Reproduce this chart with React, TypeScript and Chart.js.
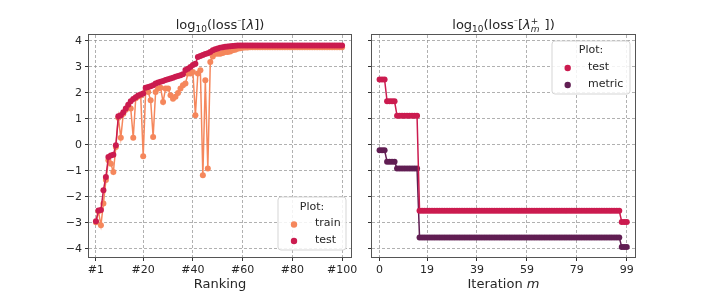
import React, { useEffect, useRef } from "react";
import { Chart, registerables } from "chart.js";
Chart.register(...registerables);

// ---------- data ----------
const rankTicks = [0, 19, 39, 59, 79, 99];
const rankTickLabels = ["#1", "#20", "#40", "#60", "#80", "#100"];
const iterTicks = [0, 19, 39, 59, 79, 99];
const iterTickLabels = ["0", "19", "39", "59", "79", "99"];
const yTicks = [-4, -3, -2, -1, 0, 1, 2, 3, 4];

const rankTrain = [
  -2.97, -2.55, -3.09, -2.25, -1.35, -0.59, -0.72, -1.04, -0.08, 1.05,
  0.28, 1.2, 1.35, 1.5, 1.4, 0.28, 1.8, 1.86, 1.9, -0.43,
  2.1, 2.04, 1.72, 0.31, 2.04, 2.17, 2.2, 1.65, 2.17, 2.17,
  1.91, 1.78, 1.85, 2.0, 2.17, 2.3, 2.36, 2.75, 2.75, 2.81,
  1.14, 2.75, 2.87, -1.17, 2.49, -0.91, 3.19, 3.4, 3.51, 3.51,
  3.51, 3.54, 3.58, 3.58, 3.6, 3.64, 3.66, 3.7, 3.72, 3.74,
  3.75, 3.75, 3.76, 3.76, 3.76, 3.76, 3.76, 3.76, 3.76, 3.76,
  3.76, 3.76, 3.76, 3.76, 3.76, 3.76, 3.76, 3.76, 3.76, 3.76,
  3.76, 3.76, 3.76, 3.76, 3.76, 3.76, 3.76, 3.76, 3.76, 3.76,
  3.76, 3.76, 3.76, 3.76, 3.76, 3.76, 3.76, 3.76, 3.76, 3.76,
];
const rankTest = [
  -2.93, -2.52, -2.5, -1.74, -1.23, -0.46, -0.41, -0.38, -0.01, 1.1,
  1.14, 1.26, 1.4, 1.55, 1.68, 1.77, 1.84, 1.9, 1.94, 1.98,
  2.2, 2.23, 2.26, 2.3, 2.36, 2.4, 2.43, 2.46, 2.5, 2.53,
  2.56, 2.59, 2.62, 2.65, 2.68, 2.72, 2.88, 2.93, 3.0, 3.08,
  3.12, 3.38, 3.42, 3.46, 3.5, 3.53, 3.58, 3.64, 3.68, 3.71,
  3.74, 3.76, 3.78, 3.79, 3.8, 3.81, 3.82, 3.83, 3.83, 3.83,
  3.83, 3.83, 3.83, 3.83, 3.83, 3.83, 3.83, 3.83, 3.83, 3.83,
  3.83, 3.83, 3.83, 3.83, 3.83, 3.83, 3.83, 3.83, 3.83, 3.83,
  3.83, 3.83, 3.83, 3.83, 3.83, 3.83, 3.83, 3.83, 3.83, 3.83,
  3.83, 3.83, 3.83, 3.83, 3.83, 3.83, 3.83, 3.83, 3.83, 3.83,
];
const iterTest = [
  2.52, 2.52, 2.52, 1.68, 1.68, 1.68, 1.68, 1.12, 1.12, 1.12,
  1.12, 1.12, 1.12, 1.12, 1.12, 1.12, -2.53, -2.53, -2.53, -2.53,
  -2.53, -2.53, -2.53, -2.53, -2.53, -2.53, -2.53, -2.53, -2.53, -2.53,
  -2.53, -2.53, -2.53, -2.53, -2.53, -2.53, -2.53, -2.53, -2.53, -2.53,
  -2.53, -2.53, -2.53, -2.53, -2.53, -2.53, -2.53, -2.53, -2.53, -2.53,
  -2.53, -2.53, -2.53, -2.53, -2.53, -2.53, -2.53, -2.53, -2.53, -2.53,
  -2.53, -2.53, -2.53, -2.53, -2.53, -2.53, -2.53, -2.53, -2.53, -2.53,
  -2.53, -2.53, -2.53, -2.53, -2.53, -2.53, -2.53, -2.53, -2.53, -2.53,
  -2.53, -2.53, -2.53, -2.53, -2.53, -2.53, -2.53, -2.53, -2.53, -2.53,
  -2.53, -2.53, -2.53, -2.53, -2.53, -2.53, -2.53, -2.96, -2.96, -2.96,
];
const iterMetric = [
  -0.2, -0.2, -0.2, -0.65, -0.65, -0.65, -0.65, -0.91, -0.91, -0.91,
  -0.91, -0.91, -0.91, -0.91, -0.91, -0.91, -3.56, -3.56, -3.56, -3.56,
  -3.56, -3.56, -3.56, -3.56, -3.56, -3.56, -3.56, -3.56, -3.56, -3.56,
  -3.56, -3.56, -3.56, -3.56, -3.56, -3.56, -3.56, -3.56, -3.56, -3.56,
  -3.56, -3.56, -3.56, -3.56, -3.56, -3.56, -3.56, -3.56, -3.56, -3.56,
  -3.56, -3.56, -3.56, -3.56, -3.56, -3.56, -3.56, -3.56, -3.56, -3.56,
  -3.56, -3.56, -3.56, -3.56, -3.56, -3.56, -3.56, -3.56, -3.56, -3.56,
  -3.56, -3.56, -3.56, -3.56, -3.56, -3.56, -3.56, -3.56, -3.56, -3.56,
  -3.56, -3.56, -3.56, -3.56, -3.56, -3.56, -3.56, -3.56, -3.56, -3.56,
  -3.56, -3.56, -3.56, -3.56, -3.56, -3.56, -3.56, -3.93, -3.93, -3.93,
];

// ---------- style ----------
const FAMILY = "'DejaVu Sans', sans-serif";
const TEXT = "#262626";
const C_TRAIN = "#f5875c";
const C_TEST = "#cb1b4f";
const C_METRIC = "#611e53";
const GRID = "rgba(140,140,140,0.85)";
const SPINE = "#555555";

type Seg = { t: string; size: number; dy: number; italic?: boolean; sup?: string; sub?: string };

function fontOf(size: number, italic?: boolean) {
  return `${italic ? "italic " : ""}${size}px ${FAMILY}`;
}

function drawRich(ctx: CanvasRenderingContext2D, segs: Seg[], cx: number, base: number) {
  ctx.save();
  ctx.fillStyle = TEXT;
  ctx.textAlign = "left";
  ctx.textBaseline = "alphabetic";
  const widths = segs.map((s) => {
    if (s.sup !== undefined || s.sub !== undefined) {
      ctx.font = fontOf(s.size, false);
      const a = ctx.measureText(s.sup || "").width;
      ctx.font = fontOf(s.size, true);
      const b = ctx.measureText(s.sub || "").width;
      return Math.max(a, b) + 1;
    }
    ctx.font = fontOf(s.size, s.italic);
    return ctx.measureText(s.t).width;
  });
  const total = widths.reduce((a, b) => a + b, 0);
  let x = cx - total / 2;
  segs.forEach((s, i) => {
    if (s.sup !== undefined || s.sub !== undefined) {
      ctx.font = fontOf(s.size, false);
      ctx.fillText(s.sup || "", x, base - 5);
      ctx.font = fontOf(s.size, true);
      ctx.fillText(s.sub || "", x, base + 3);
    } else {
      ctx.font = fontOf(s.size, s.italic);
      ctx.fillText(s.t, x, base + s.dy);
    }
    x += widths[i];
  });
  ctx.restore();
}

type LegendSpec = { x: number; y: number; w: number; h: number; titleY: number; rows: { label: string; color: string; y: number }[]; mx: number; tx: number };

function drawLegend(ctx: CanvasRenderingContext2D, L: LegendSpec) {
  ctx.save();
  const r = 3;
  ctx.beginPath();
  ctx.moveTo(L.x + r, L.y);
  ctx.lineTo(L.x + L.w - r, L.y);
  ctx.quadraticCurveTo(L.x + L.w, L.y, L.x + L.w, L.y + r);
  ctx.lineTo(L.x + L.w, L.y + L.h - r);
  ctx.quadraticCurveTo(L.x + L.w, L.y + L.h, L.x + L.w - r, L.y + L.h);
  ctx.lineTo(L.x + r, L.y + L.h);
  ctx.quadraticCurveTo(L.x, L.y + L.h, L.x, L.y + L.h - r);
  ctx.lineTo(L.x, L.y + r);
  ctx.quadraticCurveTo(L.x, L.y, L.x + r, L.y);
  ctx.closePath();
  ctx.fillStyle = "rgba(255,255,255,0.85)";
  ctx.fill();
  ctx.strokeStyle = "#d5d5d5";
  ctx.lineWidth = 1;
  ctx.stroke();
  ctx.fillStyle = TEXT;
  ctx.font = fontOf(11);
  ctx.textAlign = "center";
  ctx.textBaseline = "middle";
  ctx.fillText("Plot:", L.x + L.w / 2, L.titleY);
  ctx.textAlign = "left";
  L.rows.forEach((row) => {
    ctx.beginPath();
    ctx.arc(L.mx, row.y + 1, 3.2, 0, Math.PI * 2);
    ctx.fillStyle = row.color;
    ctx.fill();
    ctx.fillStyle = TEXT;
    ctx.fillText(row.label, L.tx, row.y);
  });
  ctx.restore();
}

function frame(ctx: CanvasRenderingContext2D, a: { left: number; right: number; top: number; bottom: number }) {
  ctx.save();
  ctx.strokeStyle = SPINE;
  ctx.lineWidth = 1;
  ctx.strokeRect(Math.round(a.left) - 0.5, Math.round(a.top) - 0.5, Math.round(a.right - a.left) + 1, Math.round(a.bottom - a.top) + 1);
  ctx.restore();
}

function yLabel(v: number) {
  return v < 0 ? "\u2212" + Math.abs(v) : String(v);
}

function baseScales(xMin: number, xMax: number, xTicks: number[], xLabels: string[], yWidth: number, showY: boolean) {
  const gridCommon = { color: GRID, lineWidth: 0.8, tickLength: 4, tickColor: "#333", tickWidth: 1 };
  return {
    x: {
      type: "linear" as const,
      min: xMin,
      max: xMax,
      afterBuildTicks: (s: any) => {
        s.ticks = xTicks.map((v) => ({ value: v }));
      },
      afterFit: (s: any) => {
        s.height = 37;
        s.paddingLeft = 0;
        s.paddingRight = 0;
      },
      ticks: {
        autoSkip: false,
        maxRotation: 0,
        padding: 3,
        color: TEXT,
        font: { family: FAMILY, size: 11 },
        callback: (v: any) => xLabels[xTicks.indexOf(v)] ?? "",
      },
      grid: gridCommon,
      border: { display: false, dash: [3, 2] },
    },
    y: {
      type: "linear" as const,
      min: -4.31,
      max: 4.23,
      afterBuildTicks: (s: any) => {
        s.ticks = yTicks.map((v) => ({ value: v }));
      },
      afterFit: (s: any) => {
        s.width = yWidth;
        s.paddingTop = 0;
        s.paddingBottom = 0;
      },
      ticks: {
        display: showY,
        padding: 3,
        color: TEXT,
        font: { family: FAMILY, size: 11 },
        callback: (v: any) => yLabel(v),
      },
      grid: gridCommon,
      border: { display: false, dash: [3, 2] },
    },
  };
}

function series(vals: number[], color: string) {
  return {
    data: vals.map((v, i) => ({ x: i, y: v })),
    borderColor: color,
    backgroundColor: color,
    borderWidth: 1.5,
    pointRadius: 3,
    pointBorderWidth: 0,
    pointHoverRadius: 3,
    tension: 0,
  };
}

export default function App() {
  const leftRef = useRef<HTMLCanvasElement>(null);
  const rightRef = useRef<HTMLCanvasElement>(null);

  useEffect(() => {
    const leftOverlay = {
      id: "leftOverlay",
      afterDraw(chart: any) {
        const ctx = chart.ctx as CanvasRenderingContext2D;
        const a = chart.chartArea;
        frame(ctx, a);
        const cx = (a.left + a.right) / 2;
        drawRich(ctx, [
          { t: "log", size: 13, dy: 0 },
          { t: "10", size: 9, dy: 3 },
          { t: "(loss", size: 13, dy: 0 },
          { t: "\u2212", size: 5, dy: -7 },
          { t: "[", size: 13, dy: 0 },
          { t: "\u03bb", size: 13, dy: 0, italic: true },
          { t: "])", size: 13, dy: 0 },
        ], cx, 29);
        drawRich(ctx, [{ t: "Ranking", size: 13, dy: 0 }], cx, 288);
        drawLegend(ctx, {
          x: 278, y: 197, w: 68, h: 53, titleY: 207, mx: 294, tx: 315,
          rows: [
            { label: "train", color: C_TRAIN, y: 223.5 },
            { label: "test", color: C_TEST, y: 240 },
          ],
        });
      },
    };
    const rightOverlay = {
      id: "rightOverlay",
      afterDraw(chart: any) {
        const ctx = chart.ctx as CanvasRenderingContext2D;
        const a = chart.chartArea;
        frame(ctx, a);
        const cx = (a.left + a.right) / 2;
        drawRich(ctx, [
          { t: "log", size: 13, dy: 0 },
          { t: "10", size: 9, dy: 3 },
          { t: "(loss", size: 13, dy: 0 },
          { t: "\u2212", size: 5, dy: -7 },
          { t: "[", size: 13, dy: 0 },
          { t: "\u03bb", size: 13, dy: 0, italic: true },
          { t: "", size: 9, dy: 0, sup: "+", sub: "m" },
          { t: " ])", size: 13, dy: 0 },
        ], cx, 29);
        drawRich(ctx, [
          { t: "Iteration ", size: 13, dy: 0 },
          { t: "m", size: 13, dy: 0, italic: true },
        ], cx, 288);
        drawLegend(ctx, {
          x: 192, y: 41, w: 78, h: 53, titleY: 50.5, mx: 207.7, tx: 228,
          rows: [
            { label: "test", color: C_TEST, y: 67 },
            { label: "metric", color: C_METRIC, y: 84 },
          ],
        });
      },
    };

    const left = new Chart(leftRef.current!, {
      type: "line",
      data: {
        datasets: [series(rankTest, C_TEST), series(rankTrain, C_TRAIN)],
      },
      options: {
        animation: false,
        responsive: false,
        layout: { padding: { left: 0, top: 35, right: 9, bottom: 0 } },
        plugins: { legend: { display: false }, tooltip: { enabled: false }, title: { display: false } },
        scales: baseScales(-2.8, 102.6, rankTicks, rankTickLabels, 89, true) as any,
      },
      plugins: [leftOverlay],
    });

    const right = new Chart(rightRef.current!, {
      type: "line",
      data: {
        datasets: [series(iterTest, C_TEST), series(iterMetric, C_METRIC)],
      },
      options: {
        animation: false,
        responsive: false,
        layout: { padding: { left: 0, top: 35, right: 71, bottom: 0 } },
        plugins: { legend: { display: false }, tooltip: { enabled: false }, title: { display: false } },
        scales: baseScales(-3.04, 102.3, iterTicks, iterTickLabels, 12, false) as any,
      },
      plugins: [rightOverlay],
    });

    return () => {
      left.destroy();
      right.destroy();
    };
  }, []);

  return (
    <div style={{ position: "absolute", left: 0, top: 0, width: 706, height: 294, background: "#ffffff" }}>
      <canvas ref={leftRef} width={360} height={294} style={{ position: "absolute", left: 0, top: 0, display: "block" }} />
      <canvas ref={rightRef} width={346} height={294} style={{ position: "absolute", left: 360, top: 0, display: "block" }} />
    </div>
  );
}
